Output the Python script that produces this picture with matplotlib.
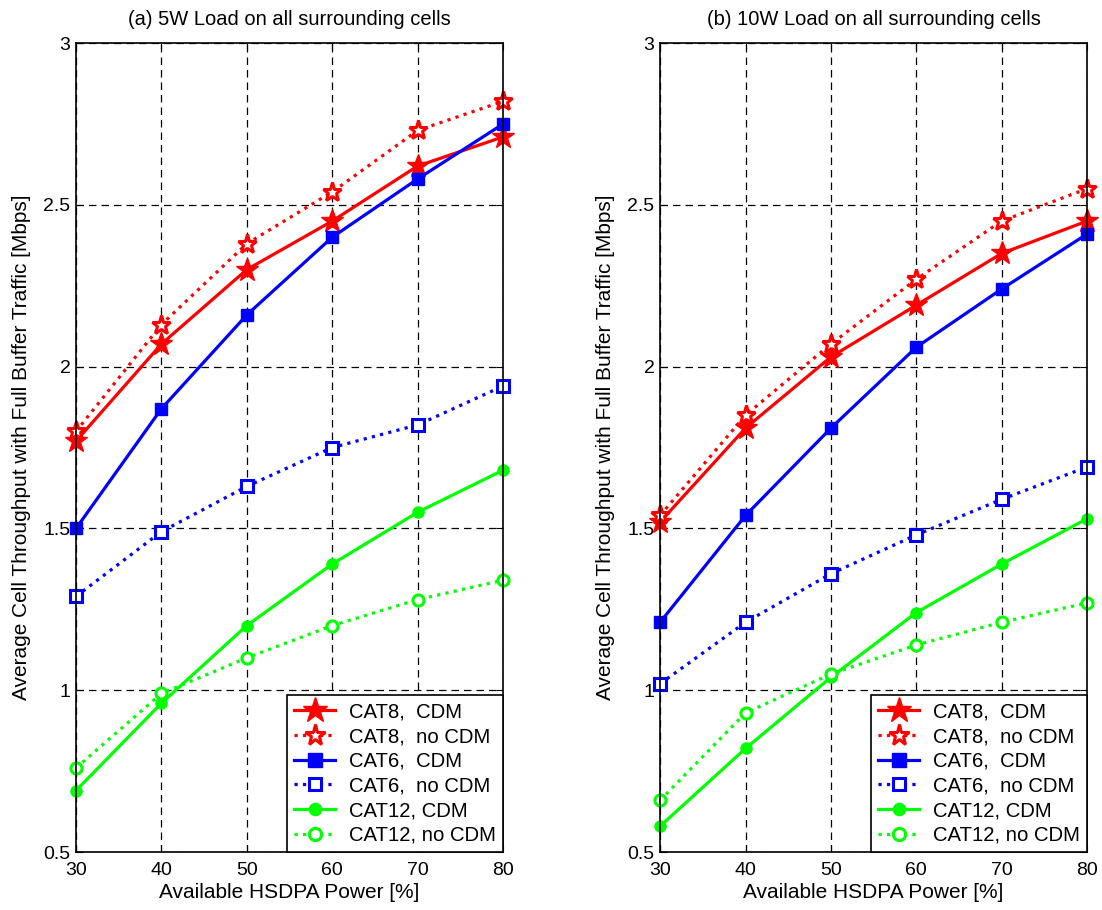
import numpy as np
import matplotlib
matplotlib.use('Agg')
import matplotlib.pyplot as plt

plt.rcParams['font.family'] = ['Liberation Sans', 'DejaVu Sans']

# data
power = [30, 40, 50, 60, 70, 80]
titles = ['(a) 5W Load on all surrounding cells', '(b) 10W Load on all surrounding cells']
labels = ['CAT8,  CDM', 'CAT8,  no CDM', 'CAT6,  CDM', 'CAT6,  no CDM', 'CAT12, CDM', 'CAT12, no CDM']

# (a) 5W
a_cat8_cdm = [1.77, 2.07, 2.30, 2.45, 2.62, 2.71]
a_cat8_no = [1.80, 2.13, 2.38, 2.54, 2.73, 2.82]
a_cat6_cdm = [1.50, 1.87, 2.16, 2.40, 2.58, 2.75]
a_cat6_no = [1.29, 1.49, 1.63, 1.75, 1.82, 1.94]
a_cat12_cdm = [0.69, 0.96, 1.20, 1.39, 1.55, 1.68]
a_cat12_no = [0.76, 0.99, 1.10, 1.20, 1.28, 1.34]

# (b) 10W
b_cat8_cdm = [1.52, 1.81, 2.03, 2.19, 2.35, 2.45]
b_cat8_no = [1.54, 1.85, 2.07, 2.27, 2.45, 2.55]
b_cat6_cdm = [1.21, 1.54, 1.81, 2.06, 2.24, 2.41]
b_cat6_no = [1.02, 1.21, 1.36, 1.48, 1.59, 1.69]
b_cat12_cdm = [0.58, 0.82, 1.04, 1.24, 1.39, 1.53]
b_cat12_no = [0.66, 0.93, 1.05, 1.14, 1.21, 1.27]

panels = [
    [a_cat8_cdm, a_cat8_no, a_cat6_cdm, a_cat6_no, a_cat12_cdm, a_cat12_no],
    [b_cat8_cdm, b_cat8_no, b_cat6_cdm, b_cat6_no, b_cat12_cdm, b_cat12_no],
]

# style of each series: colour, linestyle, marker, marker size, filled
styles = [
    ('#ff0000', '-', '*', 17, True),
    ('#ff0000', ':', '*', 14, False),
    ('#0000ff', '-', 's', 9, True),
    ('#0000ff', ':', 's', 8, False),
    ('#00ff00', '-', 'o', 8, True),
    ('#00ff00', ':', 'o', 8, False),
]

fig = plt.figure(figsize=(11.02, 9.10), dpi=100)
positions = [[0.069, 0.0637, 0.3875, 0.889], [0.599, 0.0637, 0.3875, 0.889]]

for p in range(2):
    ax = fig.add_axes(positions[p])
    for k in range(6):
        c, ls, m, ms, filled = styles[k]
        ax.plot(power, panels[p][k], color=c, linestyle=ls, linewidth=2.3,
                marker=m, markersize=ms, markeredgewidth=2.2 if not filled else 1,
                markerfacecolor=c if filled else 'white', markeredgecolor=c,
                label=labels[k], clip_on=False, zorder=3)
    ax.set_xlim(30, 80)
    ax.set_ylim(0.5, 3)
    ax.set_xticks(power)
    ax.set_yticks([0.5, 1, 1.5, 2, 2.5, 3])
    ax.set_yticklabels(['0.5', '1', '1.5', '2', '2.5', '3'])
    ax.grid(True, color='black', linestyle=(0, (6, 4)), linewidth=0.9)
    ax.tick_params(direction='in', labelsize=14, length=5, top=True, right=True)
    ax.tick_params(axis='x', pad=7)
    ax.tick_params(axis='y', pad=4)
    for s in ax.spines.values():
        s.set_linewidth(1.2)
        s.set_zorder(4)
    ax.set_title(titles[p], fontsize=14.5, pad=13)
    ax.set_xlabel('Available HSDPA Power [%]', fontsize=15, labelpad=3)
    ax.set_ylabel('Average Cell Throughput with Full Buffer Traffic [Mbps]', fontsize=15, labelpad=9)
    leg = ax.legend(loc='lower right', fontsize=14.6, borderaxespad=0, fancybox=False,
                    edgecolor='black', framealpha=1, handlelength=2.0, handletextpad=0.7,
                    labelspacing=0.28, borderpad=0.35, markerscale=1.1)
    leg.get_frame().set_linewidth(1.2)
    leg.set_zorder(5)

fig.savefig('out.png', dpi=100)
